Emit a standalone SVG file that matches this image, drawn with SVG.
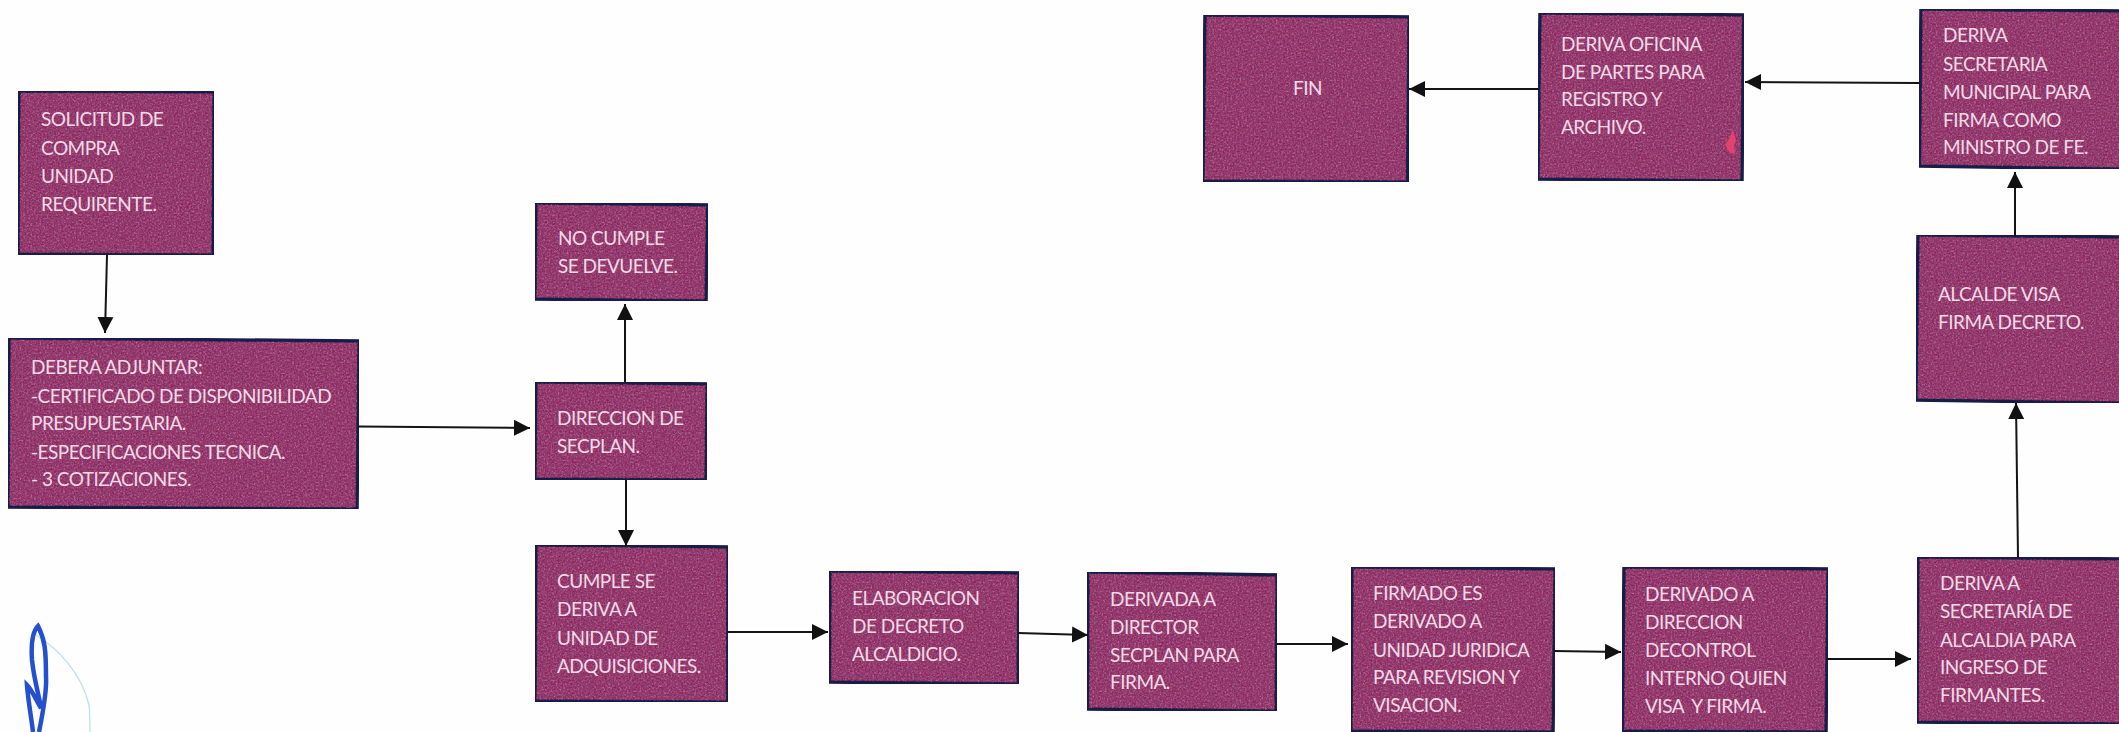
<svg xmlns="http://www.w3.org/2000/svg" width="2119" height="732" viewBox="0 0 2119 732">
<style>
.box{fill:#8c3b6b;stroke:#151d48;stroke-width:3.5;stroke-linejoin:miter;filter:url(#grain)}
text{font-family:"Lato","Carlito","Liberation Sans",sans-serif;font-size:19px;letter-spacing:-.52px;fill:#f2d9e6}
.c{fill:none;stroke:#141414;stroke-width:2;marker-end:url(#ah)}
</style>
<defs>
<marker id="ah" markerUnits="userSpaceOnUse" markerWidth="17" markerHeight="18" refX="16" refY="8.5" orient="auto"><path d="M0 .5L16 8.5L0 16.5Z" fill="#111"/></marker>
<filter id="grain" x="0" y="0" width="1" height="1" color-interpolation-filters="sRGB">
<feTurbulence type="fractalNoise" baseFrequency="0.55" numOctaves="2" seed="4" result="n"/>
<feColorMatrix in="n" type="matrix" values="0 0 0 0 .72  0 0 0 0 .42  0 0 0 0 .60  2.4 0 0 0 -1.05" result="lt"/>
<feColorMatrix in="n" type="matrix" values="0 0 0 0 .58  0 0 0 0 .08  0 0 0 0 .33  0 2.4 0 0 -1.1" result="dk"/>
<feMerge result="m"><feMergeNode in="lt"/><feMergeNode in="dk"/></feMerge>
<feMorphology in="SourceAlpha" operator="erode" radius="3" result="inner"/>
<feComposite in="m" in2="inner" operator="in" result="g"/>
<feMerge><feMergeNode in="SourceGraphic"/><feMergeNode in="g"/></feMerge>
</filter>
</defs>
<rect width="2119" height="732" fill="#fefefe"/>
<g id="firma">
<path d="M36 635C60 650 82 675 89 705C90 715 90 724 90 732" fill="none" stroke="#bfdfee" stroke-width="1.3"/>
<path d="M39 732C43 712 47 690 46 677C46 650 45 640 38 626C32 632 31 645 32 660C34 680 39 695 41 708C36 700 32 690 27 685C28 700 31 715 33 732" fill="none" stroke="#2450d0" stroke-width="4.5"/>
</g>
<g id="n1"><polygon class="box" points="19,91 214,92 213,255 18,254"/><text x="41" y="126">SOLICITUD DE</text><text x="41" y="155">COMPRA</text><text x="41" y="183">UNIDAD</text><text x="41" y="211">REQUIRENTE.</text></g>
<g id="n2"><polygon class="box" points="9,338 359,341 357,509 8,507"/><text x="31" y="374">DEBERA ADJUNTAR:</text><text x="31" y="403">-CERTIFICADO DE DISPONIBILIDAD</text><text x="31" y="430">PRESUPUESTARIA.</text><text x="31" y="459">-ESPECIFICACIONES TECNICA.</text><text x="31" y="486">- 3 COTIZACIONES.</text></g>
<g id="n3"><polygon class="box" points="536,203 707.5,205 706,301 535,299"/><text x="558" y="245">NO CUMPLE</text><text x="558" y="273">SE DEVUELVE.</text></g>
<g id="n4"><polygon class="box" points="536,382 707,384 706,480 535,479"/><text x="557" y="425">DIRECCION DE</text><text x="557" y="453">SECPLAN.</text></g>
<g id="n5"><polygon class="box" points="536,545 728,547 727.5,702 535,701"/><text x="557" y="588">CUMPLE SE</text><text x="557" y="616">DERIVA A</text><text x="557" y="645">UNIDAD DE</text><text x="557" y="673">ADQUISICIONES.</text></g>
<g id="n6"><polygon class="box" points="830,571 1019,573 1018,684 829.5,682"/><text x="852" y="605">ELABORACION</text><text x="852" y="633">DE DECRETO</text><text x="852" y="661">ALCALDICIO.</text></g>
<g id="n7"><polygon class="box" points="1088,572 1277,575 1276,711 1087.5,709"/><text x="1110" y="606">DERIVADA A</text><text x="1110" y="634">DIRECTOR</text><text x="1110" y="662">SECPLAN PARA</text><text x="1110" y="689">FIRMA.</text></g>
<g id="n8"><polygon class="box" points="1352,567 1555,569 1553,732 1351,731"/><text x="1373" y="600">FIRMADO ES</text><text x="1373" y="628">DERIVADO A</text><text x="1373" y="657">UNIDAD JURIDICA</text><text x="1373" y="684">PARA REVISION Y</text><text x="1373" y="712">VISACION.</text></g>
<g id="n9"><polygon class="box" points="1624,567 1828,569 1826,732 1622.5,731"/><text x="1645" y="601">DERIVADO A</text><text x="1645" y="629">DIRECCION</text><text x="1645" y="657">DECONTROL</text><text x="1645" y="685">INTERNO QUIEN</text><text x="1645" y="713" xml:space="preserve">VISA  Y FIRMA.</text></g>
<g id="n10"><polygon class="box" points="1918,557 2121,559 2121,724 1917,722"/><text x="1940" y="590">DERIVA A</text><text x="1940" y="618">SECRETARÍA DE</text><text x="1940" y="647">ALCALDIA PARA</text><text x="1940" y="674">INGRESO DE</text><text x="1940" y="702">FIRMANTES.</text></g>
<g id="n11"><polygon class="box" points="1918,235 2121,237 2121,403 1916,400"/><text x="1938" y="301">ALCALDE VISA</text><text x="1938" y="329">FIRMA DECRETO.</text></g>
<g id="n12"><polygon class="box" points="1921,9 2121,11 2121,169 1919.5,166"/><text x="1943" y="42">DERIVA</text><text x="1943" y="71">SECRETARIA</text><text x="1943" y="99">MUNICIPAL PARA</text><text x="1943" y="127">FIRMA COMO</text><text x="1943" y="154">MINISTRO DE FE.</text></g>
<g id="n13"><polygon class="box" points="1540,13 1743.5,15 1742,181 1538,179"/><text x="1561" y="51">DERIVA OFICINA</text><text x="1561" y="79">DE PARTES PARA</text><text x="1561" y="106">REGISTRO Y</text><text x="1561" y="134">ARCHIVO.</text><path d="M1733 130L1736 140L1734 146L1735 154L1730 153L1725 145L1729 139Z" fill="#e3426f"/></g>
<g id="n14"><polygon class="box" points="1205,15 1409,17 1407.5,182 1203,181"/><text x="1293" y="95">FIN</text></g>
<g id="connectors">
<path class="c" d="M107 255L105 333"/>
<path class="c" d="M358 426.5L530 428"/>
<path class="c" d="M625 382L625 304"/>
<path class="c" d="M626 480L626 546"/>
<path class="c" d="M728 632L828 632"/>
<path class="c" d="M1018 633L1088 635"/>
<path class="c" d="M1277 644L1348 644"/>
<path class="c" d="M1554 651L1621 652"/>
<path class="c" d="M1827 659L1911 659"/>
<path class="c" d="M2018 557L2016 403"/>
<path class="c" d="M2015 236L2015 172"/>
<path class="c" d="M1920 83L1745 82"/>
<path class="c" d="M1539 89L1409 89"/>
</g>
</svg>
